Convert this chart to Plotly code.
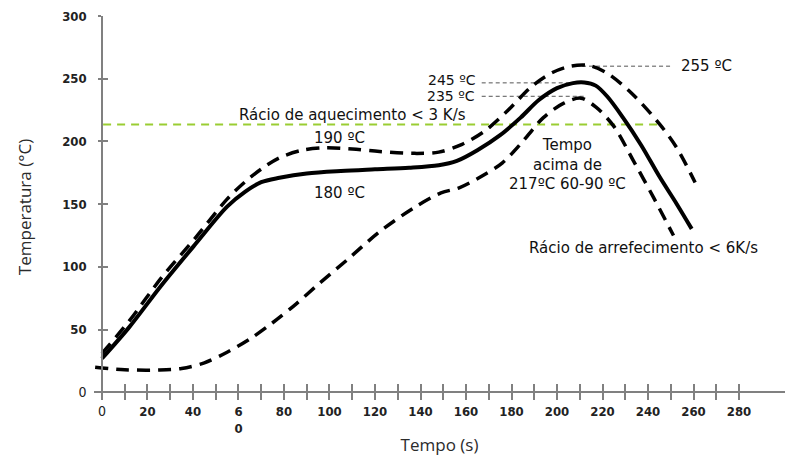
import plotly.graph_objects as go

# ---------------- data ----------------
solid_t = [0, 12, 26, 41, 55, 63, 70, 78, 90, 105, 120, 135, 148, 156, 165, 175, 184, 192,
           200, 207, 212, 217, 222, 229, 237, 245, 252.6, 259.2]
solid_T = [27, 52, 85, 118, 148, 160, 167.5, 171, 174.5, 176.5, 177.8, 179, 181, 184.5, 193,
           205, 219, 233, 242.5, 246.5, 247, 244.5, 236, 219, 197, 172, 150.2, 130.3]

upper_t = [0, 12, 26, 41, 55, 63, 70, 78, 88, 98, 110, 122, 137, 148, 158, 168, 178, 189,
           198, 206, 214, 222, 233, 245, 252.6, 260.7]
upper_T = [31, 57, 91, 123, 154, 168, 178, 187, 193, 195, 194, 192, 190.5, 191.5, 197.5, 208,
           224, 244, 255, 260, 260.5, 254.5, 238, 214, 195, 167.3]

lower_t = [-3, 10, 25, 35, 45, 55, 65, 75, 85, 95, 108, 122, 137, 149, 157, 168, 176, 184,
           194, 203, 210.5, 217, 225, 233.6, 242.4, 251.2]
lower_T = [20, 18, 17.8, 19, 23.5, 32, 42.5, 55.5, 70, 86, 106, 128, 147, 159, 163, 173.5,
           183, 198, 219, 230.5, 234.5, 227.5, 212, 184.5, 155.4, 125]

heating_level = 213.6
heating_t = [0.5, 246]

ref_levels = [260, 246.7, 236]
ref_t_start = [211, 166.9, 166.9]
ref_t_end = [251, 210.9, 212.3]

x_tickvals = list(range(0, 290, 10))
zero_lbl = "<span style='font-weight:normal;font-size:14px'>0</span>"
x_labels = {0: zero_lbl, 60: "6<br>0"}
x_ticktext = [x_labels.get(v, str(v)) if v % 20 == 0 else "" for v in x_tickvals]
y_tickvals = [0, 50, 100, 150, 200, 250, 300]
y_ticktext = [zero_lbl] + [str(v) for v in y_tickvals[1:]]

# text, x, y, anchor, font size
labels = [
    ("Rácio de aquecimento < 3 K/s", 110.3, 220.8, "center", 15),
    ("190 ºC", 104.4, 202.5, "center", 15),
    ("180 ºC", 104.4, 159.2, "center", 15),
    ("Tempo<br>acima de<br>217ºC 60-90 ºC", 204.8, 181.3, "center", 15),
    ("245 ºC", 164.7, 249.3, "right", 14),
    ("235 ºC", 164.4, 236.0, "right", 14),
    ("255 ºC", 254.1, 260.2, "left", 15),
    ("Rácio de arrefecimento < 6K/s", 238.2, 114.9, "center", 15),
]

# ---------------- figure ----------------
XR = [-3.5, 300.2]
YR = [-4.5, 300]
xpos = (0 - XR[0]) / (XR[1] - XR[0])
ypos = (0 - YR[0]) / (YR[1] - YR[0])

fig = go.Figure()

fig.add_trace(go.Scatter(x=heating_t, y=[heating_level] * 2, mode="lines",
                         line=dict(color="#9acd32", width=2, dash="8px,6px"), hoverinfo="skip"))
for lvl, a, b in zip(ref_levels, ref_t_start, ref_t_end):
    fig.add_trace(go.Scatter(x=[a, b], y=[lvl, lvl], mode="lines",
                             line=dict(color="#555555", width=1, dash="4px,3px"), hoverinfo="skip"))

curve_line = dict(color="black", width=3.5, dash="13px,8px", shape="spline", smoothing=0.9)
fig.add_trace(go.Scatter(x=upper_t, y=upper_T, mode="lines", line=curve_line, hoverinfo="skip"))
fig.add_trace(go.Scatter(x=lower_t, y=lower_T, mode="lines", line=curve_line, hoverinfo="skip"))
fig.add_trace(go.Scatter(x=solid_t, y=solid_T, mode="lines",
                         line=dict(color="black", width=4, shape="spline", smoothing=0.9),
                         hoverinfo="skip"))
# invisible trace to host the overlay (inside-tick) axes
fig.add_trace(go.Scatter(x=[0], y=[0], mode="markers", marker=dict(opacity=0),
                         xaxis="x2", yaxis="y2", hoverinfo="skip"))

for txt, x, y, anc, sz in labels:
    fig.add_annotation(x=x, y=y, text=txt, showarrow=False, xanchor=anc, yanchor="middle",
                       borderpad=0,
                       font=dict(family="DejaVu Sans", size=sz, color="#111111"))

tickfont = dict(family="Liberation Sans Narrow, Arial Narrow, DejaVu Sans Condensed, Liberation Sans",
                size=13, color="#222222", weight="bold")
axcol = "#808080"

fig.update_layout(
    width=785, height=456,
    margin=dict(l=94, r=0, t=16, b=58),
    paper_bgcolor="white", plot_bgcolor="white",
    showlegend=False,
    xaxis=dict(range=XR, anchor="free", position=ypos, showgrid=False, zeroline=False,
               showline=True, linecolor=axcol, linewidth=1.5,
               ticks="outside", ticklen=7, tickwidth=1.5, tickcolor=axcol,
               tickvals=x_tickvals, ticktext=x_ticktext, tickfont=tickfont,
               title=dict(text="Tempo (s)", font=dict(family="Open Sans", size=17, color="#2b2b2b"),
                          standoff=8)),
    yaxis=dict(range=YR, anchor="free", position=xpos, showgrid=False, zeroline=False,
               showline=True, linecolor=axcol, linewidth=1.5,
               ticks="outside", ticklen=3, tickwidth=1.5, tickcolor=axcol,
               tickvals=y_tickvals, ticktext=y_ticktext, tickfont=tickfont,
               ticklabelstandoff=9,
               title=dict(text="Temperatura (°C)", font=dict(family="Open Sans", size=17, color="#2b2b2b"),
                          standoff=25)),
    xaxis2=dict(range=XR, overlaying="x", anchor="free", position=ypos, showgrid=False,
                zeroline=False, showline=False, ticks="inside", ticklen=8, tickwidth=1.5,
                tickcolor=axcol, tickvals=x_tickvals, showticklabels=False),
    yaxis2=dict(range=YR, overlaying="y", anchor="free", position=xpos, showgrid=False,
                zeroline=False, showline=False, ticks="inside", ticklen=5, tickwidth=1.5,
                tickcolor=axcol, tickvals=y_tickvals, showticklabels=False),
)

fig.write_html("out.html")
